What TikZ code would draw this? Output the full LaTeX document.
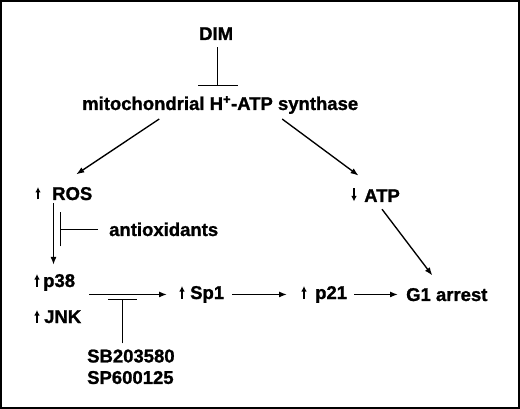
\documentclass[tikz,border=0pt]{standalone}
\usepackage{fontspec}
\setmainfont{Liberation Sans}[BoldFeatures={FakeBold=1.2}]
\usetikzlibrary{arrows.meta,calc}
\tikzset{
  lbl/.style    ={anchor=base west, inner sep=0pt, text=black,
                  font=\fontsize{18.5}{21.5}\selectfont\bfseries},
  arr/.style    ={-{Latex[length=8pt,width=6pt]}, line width=1.35pt},
  inh/.style    ={-{Bar[width=#1]}, line width=1.35pt},
  uparr/.style  ={-{Latex[length=5.5pt,width=5.5pt]}, line width=1.3pt},
}

\begin{document}
\begin{tikzpicture}[x=1pt,y=-1pt]
  \useasboundingbox (0,0) rectangle (520,409);
  \draw[line width=2.2pt] (1.1,1.1) rectangle (518.9,407.9);

  % labels
  \node[lbl] (dim)  at (199,40)  {DIM};
  \node[lbl] (atps) at (82,110)  {mitochondrial H\textsuperscript{+}-ATP synthase};
  \node[lbl] (ros)  at (52,200)  {ROS};
  \node[lbl] (anti) at (109,236) {antioxidants};
  \node[lbl] (atp)  at (364,202) {ATP};
  \node[lbl] (p38)  at (43,287)  {p38};
  \node[lbl] (jnk)  at (44,323)  {JNK};
  \node[lbl] (sp1)  at (190,299) {Sp1};
  \node[lbl] (p21)  at (315,299) {p21};
  \node[lbl] (g1)   at (406,301) {G1 arrest};
  \node[lbl,anchor=north west,align=left] (sb) at (87,349.3) {SB203580\\SP600125};

  % small up / down marks
  \foreach \n/\d in {ros/14,p38/6,jnk/7,sp1/8,p21/11}{
    \draw[uparr] ($(\n.base west)+(-\d,-0.5)$) -- ++(0,-12.5);
  }
  \draw[uparr] ($(atp.base west)+(-10,-13.5)$) -- ++(0,13);

  % pathway
  \draw[inh=40pt] ($(dim.south)+(1.5,7)$) -- ($(dim.south |- atps.north)+(1.5,-10)$);
  \draw[arr] ($(atps.south)+(-61,5)$) -- ($(ros.north)+(4,-12.5)$);
  \draw[arr] ($(atps.south)+(62,5)$) -- ($(atp.north)+(-23.5,-13.5)$);
  \draw[arr] ($(ros.base west)+(1.5,3)$) -- ($(ros.base west |- p38.north)+(1.5,-9)$);
  \draw[inh=34pt] ($(anti.west)+(-11,0)$) -- ($(ros.base west |- anti.west)+(7.5,0)$);
  \draw[arr] ($(p38.east |- sp1.west)+(14,0)$) -- ($(sp1.west)+(-23,0)$);
  \draw[inh=29pt] ($(sb.north)+(-8.5,-6)$) -- ($(sb.north |- sp1.west)+(-8.5,4.5)$);
  \draw[arr,shorten <=8pt,shorten >=28pt] (sp1.east) -- (sp1.east -| p21.west);
  \draw[arr,shorten <=7pt,shorten >=8pt] (p21.east) -- (p21.east -| g1.west);
  \draw[arr] ($(atp.south)+(0,7)$) -- ($(g1.north)+(-14.5,-12.4)$);
\end{tikzpicture}
\end{document}
